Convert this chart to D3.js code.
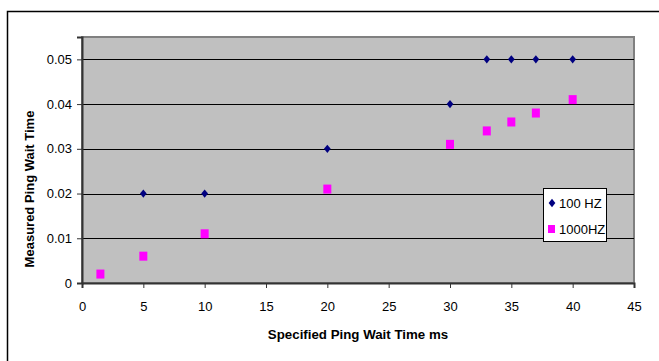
<!DOCTYPE html>
<html>
<head>
<meta charset="utf-8">
<script src="https://cdn.jsdelivr.net/npm/d3@7"></script>
<style>
  body { margin: 0; background: #fff; }
  text { font-family: "Liberation Sans", Arial, sans-serif; }
</style>
</head>
<body>
<div id="chart"></div>
<script>
'use strict';

// series data
var hz100X = [5, 10, 20, 30, 33, 35, 37, 40];
var hz100Y = [0.02, 0.02, 0.03, 0.04, 0.05, 0.05, 0.05, 0.05];
var hz1000X = [1.5, 5, 10, 20, 30, 33, 35, 37, 40];
var hz1000Y = [0.002, 0.006, 0.011, 0.021, 0.031, 0.034, 0.036, 0.038, 0.041];
var xTicks = [0, 5, 10, 15, 20, 25, 30, 35, 40, 45];
var yTicks = [0, 0.01, 0.02, 0.03, 0.04, 0.05];
var seriesNames = ["100 HZ", "1000HZ"];

var width = 659, height = 361;
var plotLeft = 82, plotTop = 37, plotRight = 634, plotBottom = 283;

var svg = d3.select("#chart").append("svg")
    .attr("width", width)
    .attr("height", height);

// outer frame (only left and top edges show)
svg.append("path")
    .attr("d", "M7.5," + height + "V11.5H" + width)
    .attr("fill", "none")
    .attr("stroke", "#000")
    .attr("stroke-width", 1.5);

var x = d3.scaleLinear().domain([0, 45]).range([plotLeft, plotRight]);
var y = d3.scaleLinear().domain([0, 0.055]).range([plotBottom, plotTop]);

// plot area
svg.append("rect")
    .attr("x", plotLeft).attr("y", plotTop)
    .attr("width", plotRight - plotLeft).attr("height", plotBottom - plotTop)
    .attr("fill", "#c0c0c0")
    .attr("stroke", "#808080")
    .attr("stroke-width", 2);

// gridlines
svg.selectAll("line.grid")
    .data(yTicks.slice(1))
    .enter().append("line")
    .attr("class", "grid")
    .attr("x1", plotLeft).attr("x2", plotRight)
    .attr("y1", function (d) { return Math.round(y(d)) + 0.5; })
    .attr("y2", function (d) { return Math.round(y(d)) + 0.5; })
    .attr("stroke", "#000")
    .attr("stroke-width", 1);

// axes
var xAxis = d3.axisBottom(x).tickValues(xTicks).tickSize(5).tickPadding(14)
    .tickFormat(d3.format("d"));
var yAxis = d3.axisLeft(y).tickValues(yTicks).tickSize(5).tickPadding(5)
    .tickFormat(function (d) { return d === 0 ? "0" : d3.format(".2f")(d); });

var gx = svg.append("g")
    .attr("transform", "translate(0," + plotBottom + ")")
    .call(xAxis);
var gy = svg.append("g")
    .attr("transform", "translate(" + plotLeft + ",0)")
    .call(yAxis);

[gx, gy].forEach(function (g) {
    g.select(".domain").attr("stroke", "#333").attr("stroke-width", 2);
    g.selectAll(".tick line").attr("stroke", "#333");
    g.selectAll(".tick text")
        .attr("fill", "#000")
        .style("font-size", "13px")
        .style("font-family", "'Liberation Sans', Arial, sans-serif");
});

// axis titles
svg.append("text")
    .attr("x", 358).attr("y", 339)
    .attr("text-anchor", "middle")
    .style("font-size", "13.3px")
    .style("font-weight", "bold")
    .text("Specified Ping Wait Time ms");

svg.append("text")
    .attr("transform", "translate(34,189) rotate(-90)")
    .attr("text-anchor", "middle")
    .style("font-size", "13px")
    .style("font-weight", "bold")
    .text("Measured Ping Wait Time");

// markers
var diamond = d3.symbol().type(d3.symbolDiamond).size(20);

svg.selectAll("path.hz100")
    .data(hz100X)
    .enter().append("path")
    .attr("class", "hz100")
    .attr("d", diamond)
    .attr("transform", function (d, i) {
        return "translate(" + x(d) + "," + y(hz100Y[i]) + ") scale(1.4,1)";
    })
    .attr("fill", "#000080");

svg.selectAll("rect.hz1000")
    .data(hz1000X)
    .enter().append("rect")
    .attr("class", "hz1000")
    .attr("x", function (d) { return x(d) - 4; })
    .attr("y", function (d, i) { return y(hz1000Y[i]) - 4.5; })
    .attr("width", 8)
    .attr("height", 9)
    .attr("fill", "#ff00ff");

// legend
var legend = svg.append("g").attr("transform", "translate(543,188)");
legend.append("rect")
    .attr("x", 0.5).attr("y", 0.5)
    .attr("width", 63).attr("height", 53)
    .attr("fill", "#fff")
    .attr("stroke", "#000");

legend.append("path")
    .attr("d", diamond)
    .attr("transform", "translate(9,15) scale(1.4,1)")
    .attr("fill", "#000080");
legend.append("rect")
    .attr("x", 5).attr("y", 37)
    .attr("width", 7).attr("height", 8)
    .attr("fill", "#ff00ff");

legend.selectAll("text.item")
    .data(seriesNames)
    .enter().append("text")
    .attr("class", "item")
    .attr("x", 16)
    .attr("y", function (d, i) { return 20 + i * 25.5; })
    .style("font-size", "13px")
    .text(function (d) { return d; });
</script>
</body>
</html>
